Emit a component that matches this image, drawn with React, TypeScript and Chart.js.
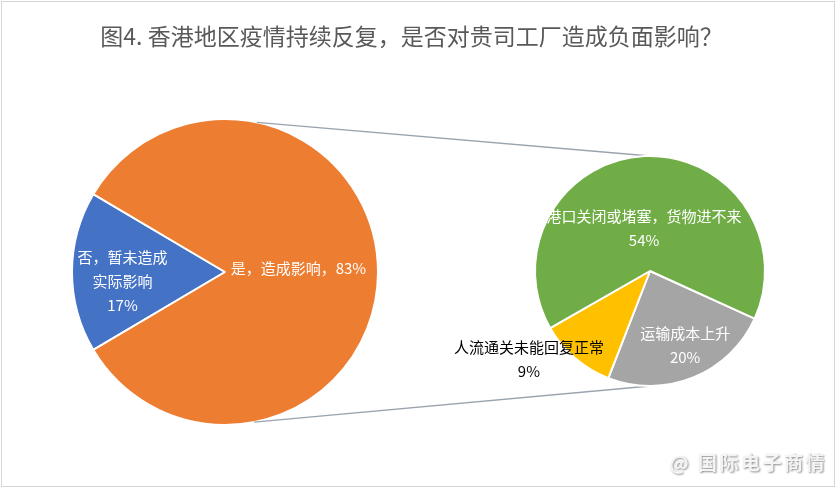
import React, { useEffect, useRef } from "react";
import { Chart, registerables } from "chart.js";

Chart.register(...registerables);

const titleText = "图4. 香港地区疫情持续反复，是否对贵司工厂造成负面影响？";

const mainCategories = ["否，暂未造成实际影响", "是，造成影响"];
const mainValues = [17, 83];
const mainColors = ["#4472C4", "#ED7D31"];
const mainLabelLines = [["否，暂未造成", "实际影响"], ["是，造成影响，"]];

const subCategories = ["运输成本上升", "人流通关未能回复正常", "港口关闭或堵塞，货物进不来"];
const subValues = [20, 9, 54];
const subColors = ["#A5A5A5", "#FFC000", "#70AD47"];
const subLabelLines = [["运输成本上升"], ["人流通关未能回复正常"], ["港口关闭或堵塞，货物进不来"]];

const FONT = "'Noto Sans CJK SC', 'Noto Sans', sans-serif";

type LabelStyle = { f: number; dx: number; dy: number; color: string; inline: boolean };

const mainLabelStyles: LabelStyle[] = [
  { f: 0.67, dx: 0, dy: 9, color: "#ffffff", inline: false },
  { f: 0.48, dx: 0, dy: -4, color: "#ffffff", inline: true },
];
const subLabelStyles: LabelStyle[] = [
  { f: 0.72, dx: 4, dy: -2, color: "#ffffff", inline: false },
  { f: 1.0, dx: -46, dy: 1, color: "#000000", inline: false },
  { f: 0.37, dx: -4, dy: 0, color: "#ffffff", inline: false },
];

function makeLabelPlugin(id: string, lines: string[][], values: number[], styles: LabelStyle[]) {
  return {
    id,
    afterDatasetsDraw(chart: any) {
      const meta = chart.getDatasetMeta(0);
      const ctx = chart.ctx;
      ctx.save();
      ctx.font = `15px ${FONT}`;
      ctx.textAlign = "center";
      ctx.textBaseline = "middle";
      meta.data.forEach((arc: any, i: number) => {
        const p = arc.getProps(["x", "y", "startAngle", "endAngle", "outerRadius"], true);
        const mid = (p.startAngle + p.endAngle) / 2;
        const st = styles[i];
        const cx = p.x + Math.cos(mid) * p.outerRadius * st.f + st.dx;
        const cy = p.y + Math.sin(mid) * p.outerRadius * st.f + st.dy;
        const pct = `${values[i]}%`;
        const txt = st.inline
          ? [...lines[i].slice(0, -1), lines[i][lines[i].length - 1] + pct]
          : [...lines[i], pct];
        const lh = 24;
        const top = cy - ((txt.length - 1) * lh) / 2;
        ctx.fillStyle = st.color;
        txt.forEach((t, k) => ctx.fillText(t, cx, top + k * lh));
      });
      ctx.restore();
    },
  };
}

const titlePlugin = {
  id: "centeredTitle",
  afterDraw(chart: any) {
    const ctx = chart.ctx;
    ctx.save();
    ctx.font = `23px ${FONT}`;
    ctx.fillStyle = "#595959";
    ctx.textAlign = "center";
    ctx.textBaseline = "middle";
    ctx.fillText(titleText, chart.width / 2 - 7, 36);
    ctx.restore();
  },
};

export default function App() {
  const ref1 = useRef<HTMLCanvasElement>(null);
  const ref2 = useRef<HTMLCanvasElement>(null);

  useEffect(() => {
    if (!ref1.current || !ref2.current) return;
    const c1 = new Chart(ref1.current, {
      type: "pie",
      data: {
        labels: mainCategories,
        datasets: [
          {
            data: mainValues,
            backgroundColor: mainColors,
            borderColor: "#ffffff",
            borderWidth: 2,
            radius: 153,
          } as any,
        ],
      },
      options: {
        responsive: false,
        animation: false,
        rotation: 239.4,
        layout: { padding: { left: 0, right: 387, top: 55, bottom: 0 } },
        plugins: {
          legend: { display: false },
          tooltip: { enabled: false },
          title: { display: false },
        },
      },
      plugins: [titlePlugin, makeLabelPlugin("mainLabels", mainLabelLines, mainValues, mainLabelStyles)],
    });

    const connector = {
      id: "connector",
      beforeDatasetsDraw(chart: any) {
        const a1 = c1.getDatasetMeta(0).data[0] as any;
        const a2 = chart.getDatasetMeta(0).data[0] as any;
        if (!a1 || !a2) return;
        const p1 = a1.getProps(["x", "y", "outerRadius"], true);
        const p2 = a2.getProps(["x", "y", "outerRadius"], true);
        const ctx = chart.ctx;
        ctx.save();
        ctx.strokeStyle = "#9aa3ad";
        ctx.lineWidth = 1.3;
        const topAng = (-78 * Math.PI) / 180;
        const botAng = (79 * Math.PI) / 180;
        ctx.beginPath();
        ctx.moveTo(p1.x + Math.cos(topAng) * p1.outerRadius, p1.y + Math.sin(topAng) * p1.outerRadius);
        ctx.lineTo(p2.x, p2.y - p2.outerRadius);
        ctx.moveTo(p1.x + Math.cos(botAng) * p1.outerRadius, p1.y + Math.sin(botAng) * p1.outerRadius);
        ctx.lineTo(p2.x, p2.y + p2.outerRadius);
        ctx.stroke();
        ctx.restore();
      },
    };

    const c2 = new Chart(ref2.current, {
      type: "pie",
      data: {
        labels: subCategories,
        datasets: [
          {
            data: subValues,
            backgroundColor: subColors,
            borderColor: "#ffffff",
            borderWidth: 2,
            radius: 115,
          } as any,
        ],
      },
      options: {
        responsive: false,
        animation: false,
        rotation: 114.5,
        layout: { padding: { left: 463, right: 0, top: 53, bottom: 0 } },
        plugins: {
          legend: { display: false },
          tooltip: { enabled: false },
        },
      },
      plugins: [connector, makeLabelPlugin("subLabels", subLabelLines, subValues, subLabelStyles)],
    });

    return () => {
      c2.destroy();
      c1.destroy();
    };
  }, []);

  return (
    <div
      style={{
        position: "fixed",
        left: 0,
        top: 0,
        width: 837,
        height: 489,
        background: "#ffffff",
        overflow: "hidden",
      }}
    >
      <div
        style={{
          position: "absolute",
          left: 1,
          top: 1,
          width: 832,
          height: 484,
          border: "1px solid #d6d6d6",
        }}
      />
      <canvas ref={ref1} width={837} height={489} style={{ position: "absolute", left: 0, top: 0 }} />
      <canvas ref={ref2} width={837} height={489} style={{ position: "absolute", left: 0, top: 0 }} />
      <div
        style={{
          position: "absolute",
          right: 10,
          top: 448,
          fontFamily: FONT,
          fontSize: 19,
          fontWeight: 700,
          color: "#f4f4f4",
          textShadow: "1px 1px 2px rgba(0,0,0,0.45)",
          letterSpacing: 2.5,
          whiteSpace: "nowrap",
        }}
      >
        @ 国际电子商情
      </div>
    </div>
  );
}
